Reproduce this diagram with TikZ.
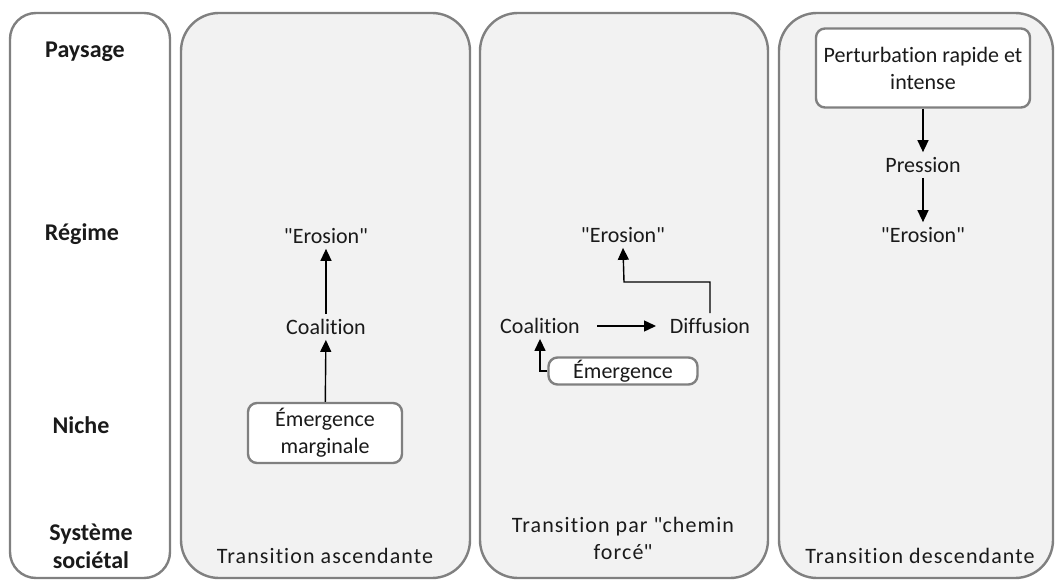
\documentclass[tikz,border=0pt]{standalone}
\usepackage{fontspec}
\setmainfont{Carlito}[Ligatures={NoCommon}]
\usepackage{xcolor}
\usetikzlibrary{arrows.meta}
\definecolor{framegray}{HTML}{808080}
\definecolor{panelfill}{HTML}{F2F2F2}
\definecolor{txtgray}{HTML}{1A1A1A}
\newcommand{\qd}{\textquotedbl}

\begin{document}
\begin{tikzpicture}[x=1pt,y=-1pt]
        \tikzset{
        tr panel/.style={draw=framegray,line width=2.4pt,rounded corners=38pt,fill=panelfill},
        tr side/.style={draw=framegray,line width=2.4pt,rounded corners=26pt,fill=white},
        tr text/.style={font=\fontsize{22}{27}\selectfont,text=txtgray,align=center,inner sep=5pt},
        tr foot/.style={tr text,font=\fontsize{22}{27}\selectfont\addfontfeature{LetterSpace=5}},
        tr level/.style={tr text,font=\fontsize{24}{28}\selectfont\bfseries},
        tr box/.style={tr text,draw=framegray,line width=2.4pt,rounded corners=9pt,fill=white,inner sep=1pt},
        tr arrow/.style={draw=black,line width=1.4pt,-{Triangle[length=12pt,width=11pt]}}
        }
        \useasboundingbox (0,0) rectangle (1055,580);
        % colonnes
        \draw[tr side] (10,13) rectangle (170,578);
        \draw[tr panel] (181,13) rectangle (470,578);
        \draw[tr panel] (480,13) rectangle (768,578);
        \draw[tr panel] (779,13) rectangle (1053,578);

        % niveaux
        \node[tr level] (pay) at (85,52) {Paysage};
        \node[tr level] (reg) at (82,234) {Régime};
        \node[tr level] (nic) at (81,425) {Niche};
        \node[tr level] (soc) at (91,546) {Système\\sociétal};

        % transition ascendante
        \node[tr text] (ero1) at (326,236) {\qd Erosion\qd};
        \node[tr text] (coa1) at (326,327) {Coalition};
        \node[tr box,minimum width=154pt,minimum height=60pt] (emg1) at (325,433) {Émergence\\marginale};
        \node[tr foot] (asc) at (325,556) {Transition ascendante};

        % chemin force
        \node[tr text] (ero2) at (623,235) {\qd Erosion\qd};
        \node[tr text] (coa2) at (540,326) {Coalition};
        \node[tr text] (dif) at (710,326) {Diffusion};
        \node[tr box,minimum width=149pt,minimum height=27pt] (emg2) at (623,371) {Émergence};
        \node[tr foot] (frc) at (623,538) {Transition par \qd chemin\\forcé\qd};
        \coordinate (k2) at (624,282);
        \coordinate (a2) at (597,326);
        \coordinate (b2) at (656,326);

        % transition descendante
        \node[tr box,minimum width=214pt,minimum height=79pt] (pert) at (923,68) {Perturbation rapide et\\intense};
        \node[tr text] (pres) at (923,165) {Pression};
        \node[tr text] (ero3) at (923,235) {\qd Erosion\qd};
        \node[tr foot] (desc) at (920,556) {Transition descendante};

        \path[-,draw]
        (emg1) edge[tr arrow] (coa1)
        (coa1) edge[tr arrow] (ero1)
        (a2) edge[tr arrow] (b2)
        (pert) edge[tr arrow] (pres)
        (pres) edge[tr arrow] (ero3)
        ;
        \draw[tr arrow] (dif.north) |- (k2) -- (ero2.south);
        \draw[tr arrow] (emg2.west) -| (coa2.south);
    \end{tikzpicture}
\end{document}
